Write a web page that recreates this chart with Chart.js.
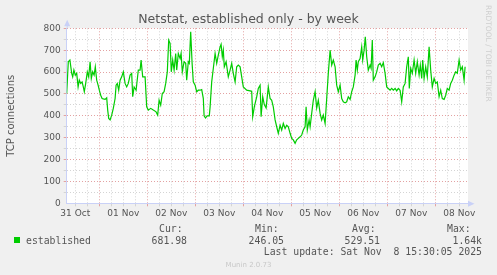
<!DOCTYPE html>
<html>
<head>
<meta charset="utf-8">
<script src="https://cdn.jsdelivr.net/npm/chart.js@4/dist/chart.umd.min.js"></script>
<style>
    html, body { margin: 0; padding: 0; background: #f0f0f0; }
    canvas { display: block; }
</style>
</head>
<body>
<canvas id="netstatChart" width="497" height="275"></canvas>
<script>
// hours counted from the "31 Oct" label
const hours = [
    -4.3, -3.5, -2.7, -1.8, -1.3, -0.7, 0, 0.7, 1.4, 2, 2.7, 3.4, 4, 4.5, 5.2, 6, 6.7, 7.4, 8, 8.7,
    9.4, 10, 10.7, 11.4, 12, 12.7, 13.4, 14, 14.9, 15.7, 16.2, 16.7, 17.4, 18.2, 19, 19.9, 20.4, 21, 21.7, 22.4,
    23.2, 24, 24.9, 25.7, 26.5, 27.4, 28.2, 28.7, 29.4, 30.4, 31.5, 32.4, 32.9, 33.7, 34.9, 35.7, 36.5, 37.7, 39, 40.4,
    41.2, 41.9, 42.7, 43.5, 44.4, 45.2, 46, 46.7, 47.4, 48, 48.7, 49.4, 50.2, 50.7, 51.5, 52.4, 52.9, 53.5, 54.4, 55.2,
    55.7, 56.5, 57, 57.7, 58.4, 59, 59.9, 60.7, 61.5, 62.4, 63.2, 64, 64.4, 65.1, 65.9, 67, 67.4, 68.2, 69.4, 69.9,
    70.7, 71.5, 72.4, 72.9, 73.5, 74, 74.5, 75.4, 76.5, 77.4, 78.2, 79, 79.9, 80.7, 81.5, 82.4, 83.2, 84, 85.7, 87.4,
    88.2, 88.7, 89.5, 90.7, 91.5, 92.4, 92.9, 93.7, 94.5, 95.4, 96.5, 97.4, 98.2, 99, 99.9, 100.7, 101.5, 102.4, 103.2, 104,
    104.9, 105.7, 106.5, 107.4, 108.2, 109, 109.9, 110.7, 111.5, 112.4, 113.2, 114, 114.9, 115.4, 116, 116.9, 117.4, 118.2, 119, 119.9,
    120.7, 121.5, 122.4, 123.2, 124, 124.9, 125.7, 126.5, 127.4, 128.2, 129, 129.9, 130.7, 131.5, 132.4, 133.2, 134, 134.9, 135.7, 136.5,
    137.4, 138.2, 139, 139.9, 140.4, 141, 141.5, 142.4, 143.2, 143.7, 144.4, 145, 145.7, 146.5, 147.4, 147.9, 148.5, 149, 149.9, 150.7,
    151.5, 152.4, 153.2, 154, 154.9, 155.7, 156.5, 157.4, 158.2, 159, 159.9, 160.7, 161.5, 162.4, 163.2, 164, 164.9, 165.7, 166.5, 167,
    167.7, 168.5, 169.4, 170.2, 171, 171.9, 172.5, 173.2, 173.7, 174.4, 175.2, 176, 176.9, 177.7, 178.5, 179.4, 180.2, 181, 181.9, 182.7,
    183.5, 184.4, 185.2, 186, 186.9, 187.7, 188.5, 189.4, 190.2, 191, 191.9, 192.7, 193.5, 194.4, 194.9
]

const established = [
    502, 647, 655, 594, 578, 609, 586, 594, 532, 563, 548, 555, 532, 510, 548, 601, 578, 647, 571, 601,
    586, 624, 563, 540, 517, 494, 479, 477, 475, 482, 426, 388, 381, 403, 434, 479, 540, 548, 517, 563,
    578, 601, 548, 532, 548, 586, 594, 487, 532, 517, 609, 609, 655, 578, 578, 441, 426, 434, 426, 418,
    403, 471, 449, 502, 510, 548, 601, 746, 731, 601, 655, 609, 685, 609, 685, 662, 685, 601, 647, 640,
    563, 647, 640, 784, 640, 555, 540, 510, 517, 517, 520, 480, 400, 390, 400, 400, 441, 555, 647, 685,
    640, 677, 715, 727, 670, 700, 624, 647, 578, 609, 640, 594, 555, 624, 632, 624, 578, 532, 517, 514,
    512, 396, 441, 487, 525, 540, 396, 487, 451, 436, 532, 479, 471, 441, 381, 350, 320, 357, 335, 365,
    342, 357, 350, 320, 297, 290, 274, 290, 297, 304, 312, 335, 350, 441, 335, 381, 350, 411, 471, 510,
    436, 471, 411, 381, 403, 365, 479, 594, 700, 632, 655, 624, 540, 510, 540, 479, 464, 459, 464, 487,
    475, 510, 532, 586, 655, 609, 647, 662, 715, 655, 700, 761, 670, 609, 632, 617, 746, 563, 578, 601,
    632, 640, 624, 643, 594, 532, 525, 517, 525, 517, 525, 514, 525, 517, 464, 532, 548, 624, 670, 525,
    617, 594, 655, 594, 647, 586, 632, 571, 655, 571, 624, 578, 715, 609, 532, 571, 548, 555, 487, 517,
    479, 475, 494, 525, 517, 548, 563, 586, 601, 594, 655, 609, 624, 563, 624
]

const dayLabels = ['31 Oct', '01 Nov', '02 Nov', '03 Nov', '04 Nov', '05 Nov', '06 Nov', '07 Nov', '08 Nov']

const statHeaders = ['Cur:', 'Min:', 'Avg:', 'Max:']
const statValues = ['681.98', '246.05', '529.51', '1.64k']
const lastUpdate = 'Last update: Sat Nov  8 15:30:05 2025'

const textColor = '#555555'
const axisColor = '#c9d1f7'
const minorGrid = '#d4d4d4'
const majorGrid = '#e3a2a2'
const lineColor = '#00cc00'

Chart.defaults.font.family = "'DejaVu Sans', sans-serif"

// white canvas behind the plot
const plotBackground = {
    id: 'plotBackground',
    beforeDraw(chart) {
        const { ctx, chartArea } = chart
        ctx.save()
        ctx.fillStyle = '#ffffff'
        ctx.fillRect(chartArea.left, chartArea.top, chartArea.width, chartArea.height)
        ctx.restore()
    }
}

// arrows, legend table and the small rrdtool/munin texts
const muninExtras = {
    id: 'muninExtras',
    afterDraw(chart) {
        const ctx = chart.ctx
        const area = chart.chartArea
        ctx.save()

        ctx.strokeStyle = axisColor
        ctx.fillStyle = axisColor
        ctx.lineWidth = 1
        ctx.beginPath()
        ctx.moveTo(area.left + 0.5, area.top)
        ctx.lineTo(area.left + 0.5, area.top - 5)
        ctx.moveTo(area.right, area.bottom + 0.5)
        ctx.lineTo(area.right + 3, area.bottom + 0.5)
        ctx.stroke()
        ctx.beginPath()
        ctx.moveTo(area.left - 2.5, area.top - 2)
        ctx.lineTo(area.left + 3.5, area.top - 2)
        ctx.lineTo(area.left + 0.5, area.top - 8.5)
        ctx.closePath()
        ctx.fill()
        ctx.beginPath()
        ctx.moveTo(area.right, area.bottom - 2.5)
        ctx.lineTo(area.right, area.bottom + 3.5)
        ctx.lineTo(area.right + 6.5, area.bottom + 0.5)
        ctx.closePath()
        ctx.fill()

        // legend
        ctx.fillStyle = lineColor
        ctx.fillRect(14, 237, 6, 6)

        ctx.fillStyle = textColor
        ctx.font = "9.8px 'DejaVu Sans Mono', monospace"
        ctx.textBaseline = 'alphabetic'
        ctx.textAlign = 'left'
        ctx.fillText('established', 26, 243.5)
        const headerX = [159, 255, 352, 447]
        const valueRight = [187, 284, 380, 482]
        statHeaders.forEach((h, i) => ctx.fillText(h, headerX[i], 231.8))
        ctx.textAlign = 'right'
        statValues.forEach((v, i) => ctx.fillText(v, valueRight[i], 243.5))
        ctx.fillText(lastUpdate, 482, 254.8)

        ctx.fillStyle = '#c8c8c8'
        ctx.font = "7px 'DejaVu Sans', sans-serif"
        ctx.textAlign = 'center'
        ctx.fillText('Munin 2.0.73', 248.5, 267.3)

        ctx.translate(488, 5)
        ctx.rotate(Math.PI / 2)
        ctx.font = "7.5px 'DejaVu Sans', sans-serif"
        ctx.textAlign = 'left'
        ctx.textBaseline = 'middle'
        ctx.fillStyle = '#cfcfcf'
        ctx.fillText('RRDTOOL / TOBI OETIKER', 0, 0)

        ctx.restore()
    }
}

const ctx = document.getElementById('netstatChart').getContext('2d')

new Chart(ctx, {
    type: 'line',
    data: {
        datasets: [{
            label: 'established',
            data: hours.map((h, i) => ({ x: h, y: established[i] })),
            borderColor: lineColor,
            borderWidth: 1.2,
            pointRadius: 0,
            tension: 0,
            fill: false
        }]
    },
    options: {
        responsive: false,
        animation: false,
        devicePixelRatio: 1,
        layout: { padding: 0 },
        scales: {
            x: {
                type: 'linear',
                min: -4.3,
                max: 196.35,
                afterBuildTicks: scale => {
                    const ticks = []
                    for (let h = 0; h <= (dayLabels.length - 1) * 24; h += 6) ticks.push({ value: h })
                    scale.ticks = ticks
                },
                afterFit: scale => { scale.height = 71.7 },
                grid: {
                    color: c => (c.tick && (c.tick.value - 12) % 24 === 0) ? majorGrid : minorGrid,
                    tickLength: 3
                },
                border: { color: axisColor, dash: [1, 2] },
                ticks: {
                    autoSkip: false,
                    maxRotation: 0,
                    padding: 2,
                    color: textColor,
                    font: { size: 9 },
                    callback: value => value % 24 === 0 ? dayLabels[value / 24] : ''
                }
            },
            y: {
                min: 0,
                max: 800,
                afterFit: scale => { scale.width = 66.7 },
                grid: {
                    color: c => {
                        if (!c.tick || c.tick.value === 0) return 'rgba(0,0,0,0)'
                        return c.tick.value % 100 === 0 ? majorGrid : minorGrid
                    },
                    tickLength: 3
                },
                border: { color: axisColor, dash: [1, 2] },
                ticks: {
                    stepSize: 50,
                    autoSkip: false,
                    padding: 3,
                    color: textColor,
                    font: { size: 9 },
                    callback: value => value % 100 === 0 ? value : ''
                },
                title: {
                    display: true,
                    text: 'TCP connections',
                    color: textColor,
                    font: { size: 10 },
                    padding: { top: 5, bottom: 0 }
                }
            },
            // empty axis on the right, only keeps the margin for the rrdtool text
            right: {
                position: 'right',
                display: true,
                grid: { display: false },
                border: { display: false },
                ticks: { display: false },
                afterFit: scale => { scale.width = 29 }
            }
        },
        plugins: {
            legend: { display: false },
            tooltip: { enabled: false },
            title: {
                display: true,
                text: 'Netstat, established only - by week',
                color: textColor,
                font: { size: 12.5, weight: 'normal' },
                padding: { top: 12, bottom: 1.3 }
            }
        }
    },
    plugins: [plotBackground, muninExtras]
})
</script>
</body>
</html>
